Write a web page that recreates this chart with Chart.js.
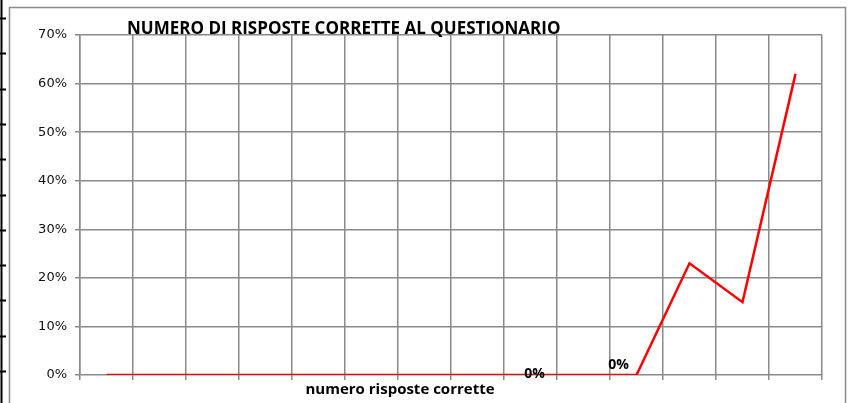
<!DOCTYPE html>
<html>
<head>
<meta charset="utf-8">
<script src="https://cdn.jsdelivr.net/npm/chart.js@4.4.0/dist/chart.umd.min.js"></script>
<style>
    html, body { margin: 0; padding: 0; background: #fff; }
    #wrap { width: 849px; height: 403px; position: relative; }
</style>
</head>
<body>
<div id="wrap"><canvas id="quizChart" width="849" height="403"></canvas></div>
<script>
// Numero risposte corrette al questionario
const categories = ['0', '1', '2', '3', '4', '5', '6', '7', '8', '9', '10', '11', '12', '13'];
const percentages = [0, 0, 0, 0, 0, 0, 0, 0, 0, 0, 0, 23, 15, 62];
const yTicks = [0, 10, 20, 30, 40, 50, 60, 70];
const labelledPoints = [8, 10];

const chartTitle = 'NUMERO DI RISPOSTE CORRETTE AL QUESTIONARIO';
const xTitle = 'numero risposte corrette';

const gridColor = '#8a8a8a';

// frame, title, axis title and the two "0%" labels
const decorPlugin = {
    id: 'decor',
    beforeDraw(chart) {
        const ctx = chart.ctx;
        ctx.save();
        ctx.fillStyle = '#fff';
        ctx.fillRect(0, 0, chart.width, chart.height);
        // outer frame of the chart object
        ctx.strokeStyle = '#8c8c8c';
        ctx.lineWidth = 1.5;
        ctx.strokeRect(9.5, 7.5, 836, 420);
        // leftover axis of a neighbouring sheet object
        ctx.strokeStyle = '#000';
        ctx.lineWidth = 2;
        ctx.beginPath();
        ctx.moveTo(1.5, 0);
        ctx.lineTo(1.5, chart.height);
        for (let y = 18; y < chart.height; y += 35.3) {
            ctx.moveTo(0, Math.round(y) + 0.5);
            ctx.lineTo(6, Math.round(y) + 0.5);
        }
        ctx.stroke();
        ctx.restore();
    },
    afterDraw(chart) {
        const ctx = chart.ctx;
        const area = chart.chartArea;
        ctx.save();
        ctx.fillStyle = '#000';
        ctx.textBaseline = 'alphabetic';

        ctx.font = 'bold 17px "Open Sans", sans-serif';
        ctx.textAlign = 'left';
        ctx.fillText(chartTitle, area.left + 47, area.top - 1);

        ctx.font = 'bold 15px "Open Sans", sans-serif';
        ctx.textAlign = 'center';
        ctx.fillText(xTitle, 400, area.bottom + 19);

        const meta = chart.getDatasetMeta(0);
        ctx.font = 'bold 14px "Open Sans", sans-serif';
        labelledPoints.forEach(function(i, k) {
            const pt = meta.data[i];
            const txt = percentages[i] + '%';
            if (k === 0) {
                ctx.fillText(txt, pt.x + 4, pt.y + 3);
            } else {
                ctx.fillText(txt, pt.x - 18, pt.y - 6);
            }
        });
        ctx.restore();
    }
};

new Chart(document.getElementById('quizChart'), {
    type: 'line',
    data: {
        labels: categories,
        datasets: [{
            data: percentages,
            borderColor: '#ff0000',
            borderWidth: 2.5,
            pointRadius: 0,
            tension: 0,
            fill: false
        }]
    },
    options: {
        responsive: false,
        animation: false,
        layout: { padding: { top: 35, right: 27, left: 0, bottom: 0 } },
        plugins: {
            legend: { display: false },
            tooltip: { enabled: false }
        },
        scales: {
            x: {
                type: 'category',
                offset: true,
                grid: {
                    offset: true,
                    color: gridColor,
                    lineWidth: 1.5,
                    drawTicks: true,
                    tickLength: 5
                },
                border: { display: false },
                ticks: { display: false },
                afterFit(scale) { scale.height = 28; }
            },
            y: {
                min: 0,
                max: 70,
                afterBuildTicks(scale) {
                    scale.ticks = yTicks.map(v => ({ value: v }));
                },
                grid: {
                    color: gridColor,
                    lineWidth: 1.5,
                    drawTicks: true,
                    tickLength: 5
                },
                border: { display: true, color: gridColor, width: 1.5 },
                ticks: {
                    color: '#111',
                    font: { family: 'DejaVu Sans', size: 13 },
                    padding: 8,
                    callback: function(v) { return v + '%'; }
                },
                afterFit(scale) { scale.width = 80; }
            }
        }
    },
    plugins: [decorPlugin]
});
</script>
</body>
</html>
